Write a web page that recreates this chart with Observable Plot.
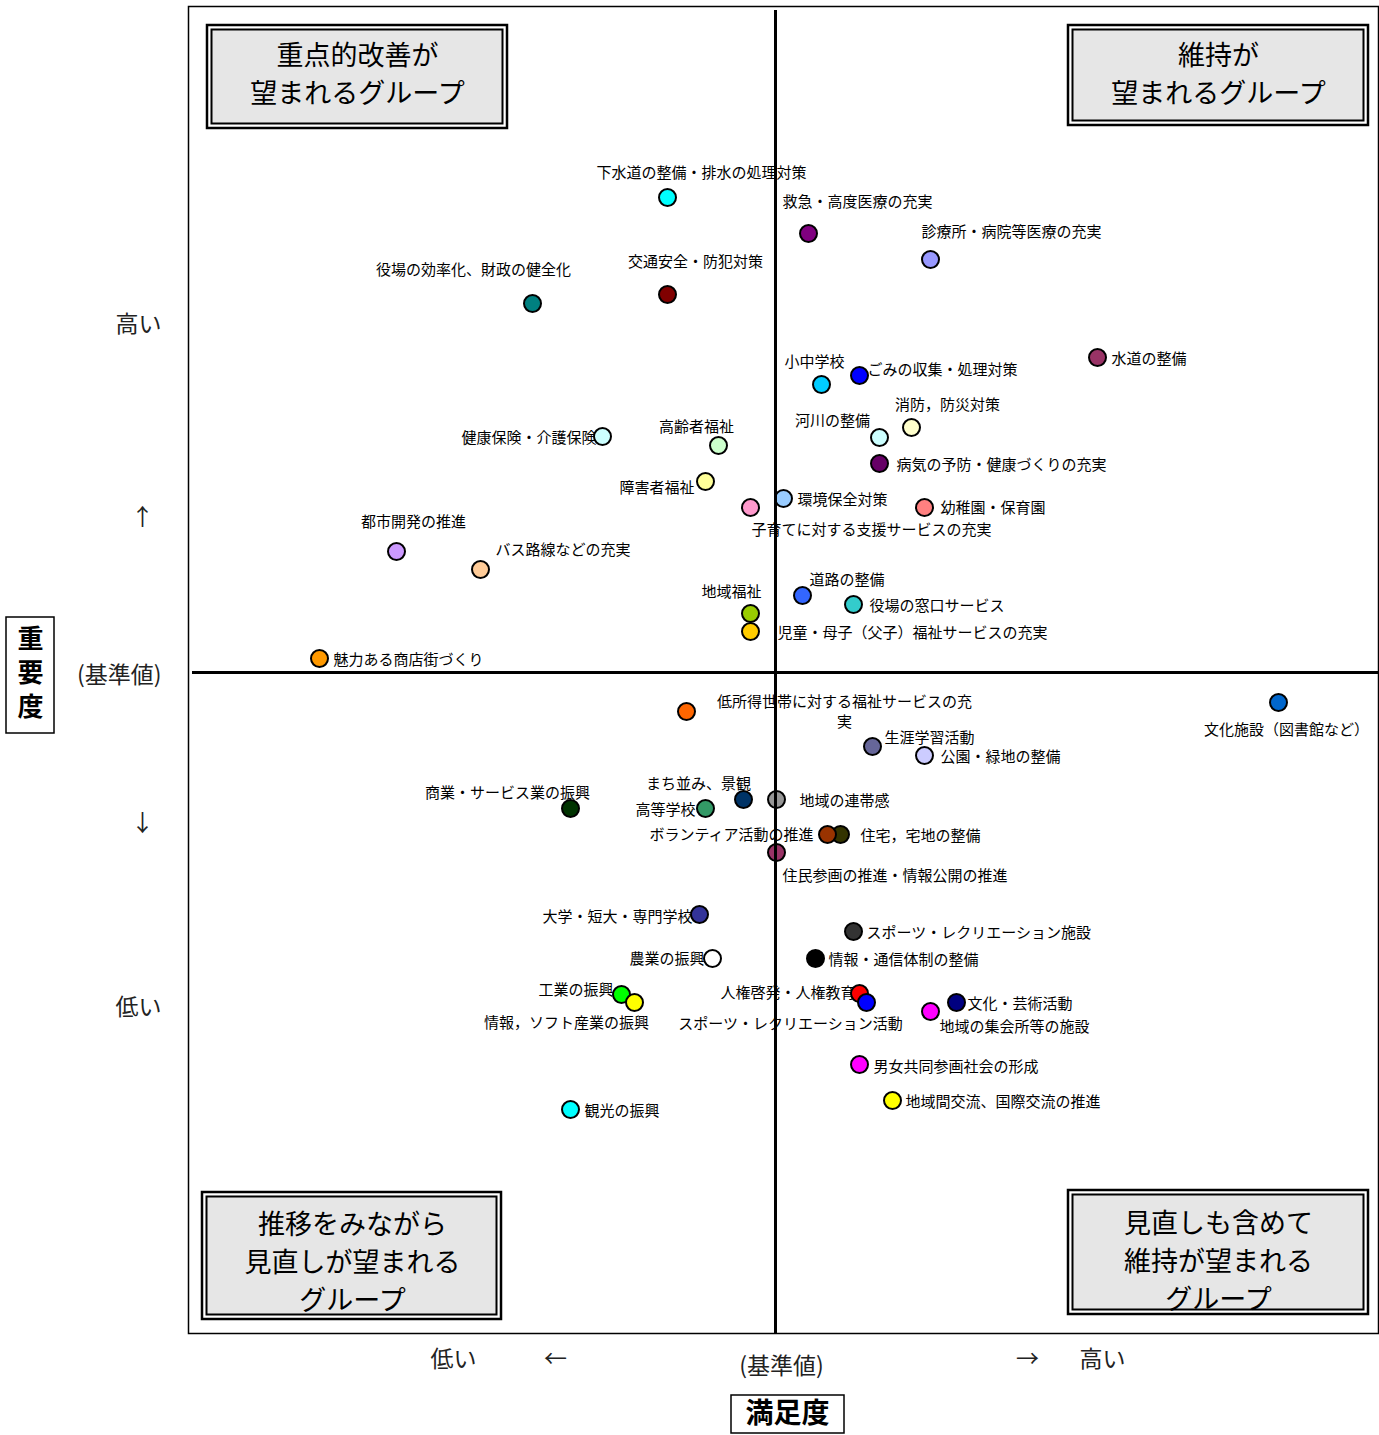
<!DOCTYPE html>
<html><head><meta charset="utf-8">
<script src="https://cdn.jsdelivr.net/npm/d3@7"></script>
<script src="https://cdn.jsdelivr.net/npm/@observablehq/plot@0.6"></script>
<style>html,body{margin:0;padding:0;background:#fff;} svg{display:block}</style>
</head><body><div id="chart"></div>
<script>
const FONT = "'Noto Sans CJK JP', 'Noto Sans', sans-serif";

const items = [
"下水道の整備・排水の処理対策","役場の効率化、財政の健全化","交通安全・防犯対策","健康保険・介護保険",
"高齢者福祉","障害者福祉","子育てに対する支援サービスの充実","都市開発の推進",
"バス路線などの充実","地域福祉","児童・母子（父子）福祉サービスの充実","魅力ある商店街づくり",
"救急・高度医療の充実","診療所・病院等医療の充実","水道の整備","小中学校",
"ごみの収集・処理対策","消防，防災対策","河川の整備","病気の予防・健康づくりの充実",
"環境保全対策","幼稚園・保育園","道路の整備","役場の窓口サービス",
"低所得世帯に対する福祉サービスの充実","商業・サービス業の振興","まち並み、景観","高等学校",
"地域の連帯感","住宅，宅地の整備","ボランティア活動の推進","住民参画の推進・情報公開の推進",
"大学・短大・専門学校","農業の振興","工業の振興","情報，ソフト産業の振興",
"観光の振興","文化施設（図書館など）","生涯学習活動","公園・緑地の整備",
"スポーツ・レクリエーション施設","情報・通信体制の整備","人権啓発・人権教育","スポーツ・レクリエーション活動",
"文化・芸術活動","地域の集会所等の施設","男女共同参画社会の形成","地域間交流、国際交流の推進"
];

// 満足度 (satisfaction, deviation from reference value)
const satisfaction = [
-1.08,-2.43,-1.08,-1.73, -0.57,-0.70,-0.25,-3.79, -2.95,-0.25,-0.25,-4.56,
 0.33, 1.55, 3.22, 0.46,  0.84, 1.36, 1.04, 1.04,  0.08, 1.49, 0.27, 0.78,
-0.89,-2.05,-0.32,-0.70,  0.01, 0.65, 0.52, 0.01, -0.76,-0.63,-1.54,-1.41,
-2.05, 5.03, 0.97, 1.49,  0.78, 0.40, 0.84, 0.91,  1.81, 1.55, 0.84, 1.17
];

// 重要度 (importance, deviation from reference value)
const importance = [
 4.75, 3.69, 3.78, 2.36,  2.27, 1.91, 1.65, 1.21,  1.03, 0.59, 0.41, 0.14,
 4.39, 4.13, 3.15, 2.88,  2.97, 2.45, 2.35, 2.09,  1.74, 1.65, 0.77, 0.68,
-0.39,-1.36,-1.27,-1.36, -1.27,-1.62,-1.62,-1.80, -2.42,-2.86,-3.22,-3.30,
-4.37,-0.30,-0.74,-0.83, -2.59,-2.86,-3.21,-3.30, -3.30,-3.39,-3.92,-4.28
];

const colors = [
"#00FFFF","#008080","#800000","#CCFFFF", "#CCFFCC","#FFFF99","#FF99CC","#CC99FF",
"#FFCC99","#99CC00","#FFCC00","#FF9900", "#800080","#9999FF","#993366","#00CCFF",
"#0000FF","#FFFFCC","#CCFFFF","#660066", "#99CCFF","#FF8080","#3366FF","#33CCCC",
"#FF6600","#003300","#003366","#339966", "#969696","#333300","#993300","#993366",
"#333399","#FFFFFF","#00FF00","#FFFF00", "#00FFFF","#0066CC","#666699","#CCCCFF",
"#333333","#000000","#FF0000","#0000FF", "#000080","#FF00FF","#FF00FF","#FFFF00"
];

// label placement relative to each dot: [dx, dy, textAnchor]
const labelLayout = [
[34,-26,"middle"],[-59,-35,"middle"],[28,-34,"middle"],[-6,0,"end"],
[-22,-20,"middle"],[-11,5,"end"],[1,21,"start"],[17,-31,"middle"],
[15,-21,"start"],[-19,-23,"middle"],[27,0,"start"],[14,0,"start"],
[-26,-33,"start"],[-9,-29,"start"],[14,0,"start"],[-7,-24,"middle"],
[8,-7,"start"],[36,-24,"middle"],[-47,-18,"middle"],[17,0,"start"],
[14,0,"start"],[16,-1,"start"],[7,-17,"start"],[16,0,"start"],
[158,-1,"middle"],[-63,-17,"middle"],[-45,-17,"middle"],[-10,0,"end"],
[23,0,"start"],[20,0,"start"],[-14,-1,"end"],[6,22,"start"],
[-7,1,"end"],[-8,-1,"end"],[-8,-6,"end"],[-68,19,"middle"],
[14,0,"start"],[8,26,"middle"],[12,-10,"start"],[16,0,"start"],
[13,0,"start"],[13,0,"start"],[-4,-2,"end"],[-76,20,"middle"],
[11,0,"start"],[9,14,"start"],[14,1,"start"],[13,0,"start"]
];
const wrappedLabels = {"低所得世帯に対する福祉サービスの充実": "低所得世帯に対する福祉サービスの充\n実"};

const quadrantLabels = [
  "重点的改善が\n望まれるグループ",
  "維持が\n望まれるグループ",
  "推移をみながら\n見直しが望まれる\nグループ",
  "見直しも含めて\n維持が望まれる\nグループ"
];

const yAxisTitle = "重\n要\n度";
const xAxisTitle = "満足度";
const yTickLabels = ["高い","↑","(基準値)","↓","低い"];
const yTickValues = [3.48, 1.55, -0.03, -1.51, -3.35];
const xTickLabels = ["低い","←","(基準値)","→","高い"];
const xTickValues = [-3.22, -2.20, 0.06, 2.52, 3.27];

const n = items.length;
const idx = d3.range(n);
const marks = [];

// framed boxes (quadrant captions and axis titles)
function boxes(index, scales, values, dim) {
  const L = dim.marginLeft, T = dim.marginTop;
  const R = dim.width - dim.marginRight, B = dim.height - dim.marginBottom;
  const g = d3.create("svg:g");
  const quad = [
    [L + 19, T + 19, 300, 103],
    [R - 310, T + 19, 300, 100],
    [L + 14, B - 141, 299, 127],
    [R - 310, B - 143, 300, 124]
  ];
  for (const [x, y, w, h] of quad) {
    g.append("rect").attr("x", x).attr("y", y).attr("width", w).attr("height", h)
      .attr("fill", "#fff").attr("stroke", "#000").attr("stroke-width", 2.5);
    g.append("rect").attr("x", x + 4.5).attr("y", y + 4.5).attr("width", w - 9).attr("height", h - 9)
      .attr("fill", "#E6E6E6").attr("stroke", "#000").attr("stroke-width", 2);
  }
  g.append("rect").attr("x", L - 182).attr("y", T + 611).attr("width", 48).attr("height", 116)
    .attr("fill", "none").attr("stroke", "#000").attr("stroke-width", 1.5);
  g.append("rect").attr("x", L + 543).attr("y", B + 62).attr("width", 113).attr("height", 38)
    .attr("fill", "none").attr("stroke", "#000").attr("stroke-width", 1.5);
  return g.node();
}

marks.push(Plot.frame({stroke: "#000", strokeWidth: 1.5}));

// item labels
idx.forEach(i => {
  const [dx, dy, anchor] = labelLayout[i];
  marks.push(Plot.text([i], {
    x: j => satisfaction[j], y: j => importance[j],
    text: j => wrappedLabels[items[j]] || items[j],
    dx, dy, textAnchor: anchor, lineAnchor: "middle",
    fontSize: 15, fontFamily: FONT, fill: "#000", lineHeight: 1.33
  }));
});

// dots
marks.push(Plot.dot(idx, {
  x: i => satisfaction[i], y: i => importance[i], r: 8.5,
  fill: i => colors[i], stroke: "#000", strokeWidth: 2
}));

// reference lines
marks.push(Plot.ruleX([0], {stroke: "#000", strokeWidth: 3, insetTop: 4}));
marks.push(Plot.ruleY([0], {stroke: "#000", strokeWidth: 3, insetLeft: 4}));

marks.push(boxes);

// quadrant captions
const qOpts = {fontSize: 27, fontFamily: FONT, fill: "#000", lineHeight: 1.41, textAnchor: "middle", lineAnchor: "middle"};
marks.push(Plot.text([quadrantLabels[0]], {...qOpts, text: d => d, frameAnchor: "top-left", dx: 169, dy: 65.5}));
marks.push(Plot.text([quadrantLabels[1]], {...qOpts, text: d => d, frameAnchor: "top-right", dx: -160, dy: 65.5}));
marks.push(Plot.text([quadrantLabels[2]], {...qOpts, text: d => d, frameAnchor: "bottom-left", dx: 164, dy: -74}));
marks.push(Plot.text([quadrantLabels[3]], {...qOpts, text: d => d, frameAnchor: "bottom-right", dx: -160, dy: -75}));

// axis tick-like labels
const tOpts = {fontSize: 23, fontFamily: FONT, fill: "#222", lineAnchor: "middle"};
marks.push(Plot.text([0, 2, 4], {
  ...tOpts, y: i => yTickValues[i], text: i => yTickLabels[i],
  frameAnchor: "left", dx: -27, textAnchor: "end"
}));
marks.push(Plot.text([1, 3], {
  ...tOpts, y: i => yTickValues[i], text: i => yTickLabels[i],
  frameAnchor: "left", dx: -46, textAnchor: "middle"
}));
marks.push(Plot.text([0, 1, 3, 4], {
  ...tOpts, x: i => xTickValues[i], text: i => xTickLabels[i],
  frameAnchor: "bottom", dy: 26, textAnchor: "middle"
}));
marks.push(Plot.text([2], {
  ...tOpts, x: i => xTickValues[i], text: i => xTickLabels[i],
  frameAnchor: "bottom", dy: 33, textAnchor: "middle"
}));

// axis titles
marks.push(Plot.text([yAxisTitle], {text: d => d, frameAnchor: "left", dx: -158, dy: 1,
  textAnchor: "middle", lineAnchor: "middle",
  fontSize: 26, fontFamily: FONT, fontWeight: "bold", lineHeight: 1.3, fill: "#000"}));
marks.push(Plot.text([xAxisTitle], {text: d => d, frameAnchor: "bottom", dx: 4, dy: 81,
  textAnchor: "middle", lineAnchor: "middle",
  fontSize: 28, fontFamily: FONT, fontWeight: "bold", fill: "#000"}));

const chart = Plot.plot({
  width: 1379, height: 1435,
  marginLeft: 188, marginRight: 1, marginTop: 6, marginBottom: 102,
  x: {domain: [-5.87, 6.03], axis: null},
  y: {domain: [-6.61, 6.66], axis: null},
  color: {type: "identity"},
  style: {background: "#fff", fontFamily: FONT, overflow: "visible"},
  marks
});
document.getElementById("chart").appendChild(chart);
</script>
</body></html>
